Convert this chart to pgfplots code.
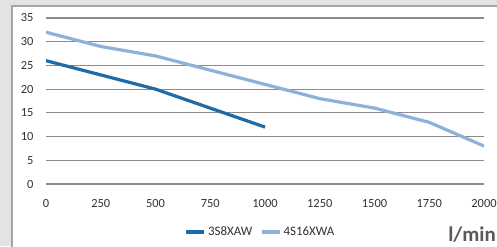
\documentclass[border=0pt]{standalone}
\usepackage{pgfplots}
\pgfplotsset{compat=1.18}
\usepackage{fontspec}
\setmainfont{Carlito}
\definecolor{dblue}{HTML}{1F6BA8}
\definecolor{lblue}{HTML}{8EB1D9}
\definecolor{bggray}{HTML}{E3E3E3}
\definecolor{bordergray}{HTML}{A6A6A6}
\definecolor{gridgray}{HTML}{8C8C8C}
\definecolor{txtgray}{HTML}{333333}
\definecolor{unitgray}{HTML}{595959}
\begin{document}
\begin{tikzpicture}[x=1bp,y=1bp]
\path[use as bounding box] (0,0) rectangle (497,246);
\fill[bggray] (0,0) rectangle (497,246);
\fill[white] (12,0) rectangle (497,240);
\draw[bordergray, line width=1.2bp] (12,-2) -- (12,240) -- (499,240);
\begin{axis}[
  at={(46bp,62bp)}, anchor=south west,
  scale only axis, width=438bp, height=166bp,
  xmin=0, xmax=2000, ymin=0, ymax=35,
  xtick={0,250,...,2000}, ytick={0,5,...,35},
  axis line style={draw=none},
  major tick length=0pt,
  ymajorgrids, grid style={gridgray, line width=1.2bp},
  /pgf/number format/assume math mode=true,
  /pgf/number format/set thousands separator={},
  tick label style={font=\fontsize{12.5}{14}\selectfont, text=txtgray},
  yticklabel style={anchor=east, xshift=-9bp},
  xticklabel style={anchor=north, yshift=-12bp},
  legend columns=2,
  legend style={at={(0.490,-0.289)}, anchor=center, draw=none, fill=none,
    font=\fontsize{13}{15}\selectfont, text=txtgray,
    /tikz/every even column/.append style={column sep=6bp},
    inner sep=0pt},
  legend image code/.code={\draw[#1, line width=3.2bp] (0bp,0bp) -- (18bp,0bp);},
]
\addplot[dblue, line width=3.2bp] coordinates {(0,26) (250,23) (500,20) (750,16) (1000,12)};
\addlegendentry{3S8XAW}
\addplot[lblue, line width=3.2bp] coordinates {(0,32) (250,29) (500,27) (750,24) (1000,21) (1250,18) (1500,16) (1750,13) (2000,8)};
\addlegendentry{4S16XWA}
\end{axis}
\node[text=unitgray, font=\fontsize{21}{24}\selectfont\bfseries, anchor=center] at (472,11) {l/min};
\end{tikzpicture}
\end{document}
